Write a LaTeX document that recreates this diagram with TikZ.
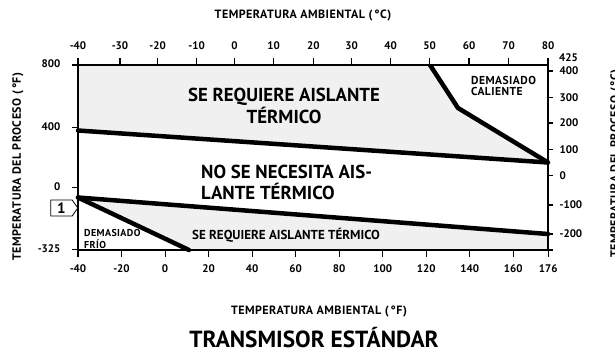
\documentclass[tikz,border=0pt]{standalone}
\usepackage{fontspec}
\setmainfont{PT Sans}
\usetikzlibrary{shapes.symbols}
\newcommand\trk{\addfontfeature{LetterSpace=4}}
\tikzset{
  bound/.style={line width=4.5pt, line join=round, line cap=round},
  frame/.style={line width=1.1pt},
  zone/.style={fill=black!6},
  ticklbl/.style={font=\fontsize{11}{12}\selectfont\bfseries, inner sep=1pt},
  axtitle/.style={font=\fontsize{12}{13}\selectfont\bfseries\trk},
  bignote/.style={font=\fontsize{18.8}{21.5}\selectfont\bfseries, align=center},
  smallnote/.style={align=left, inner sep=0pt, anchor=west},
}
\begin{document}
\begin{tikzpicture}[x=1pt, y=-1pt]
  \useasboundingbox (0,0) rectangle (615,349);
  % corners of the chart
  \coordinate (TL) at (78,65);
  \coordinate (BR) at (548,250);
  % limit lines
  \coordinate (hiL) at (78,130.5);
  \coordinate (hiR) at (548,162.5);
  \coordinate (hotT) at (430,65);
  \coordinate (hotK) at (458,108);
  \coordinate (loL) at (78,197.5);
  \coordinate (loR) at (548,234);
  \coordinate (loB) at (548,250);
  \coordinate (coldB) at (189,250);

  \fill[zone] (TL) -- (hotT) -- (hotK) -- (hiR) -- (hiL) -- cycle;
  \fill[zone] (loL) -- (loR) -- (loB) -- (coldB) -- cycle;
  \draw[frame] (TL) rectangle (BR);

  % ambient scale, degrees C on top
  \foreach \x/\c [count=\i] in {78/-40, 120/-30, 157.7/-20, 196.7/-10, 234.5/0, 273.5/10, 313.3/20,
      351.5/30, 390.7/40, 429.7/50, 469/60, 508.5/70, 548/80}
    \draw[frame] (\x,65) -- (\x,58) (\x,46) node[ticklbl] (ctop\i) {\c};
  % ambient scale, degrees F below
  \foreach \x/\f [count=\i] in {78/-40, 121.5/-20, 165.1/0, 208.6/20, 252.1/40, 295.7/60, 339.2/80,
      382.8/100, 426.3/120, 469.8/140, 513.3/160, 548.2/176}
    \draw[frame] (\x,250) -- (\x,257) (\x,269) node[ticklbl] (fbot\i) {\f};
  % process scale, degrees F left
  \foreach \y/\f [count=\i] in {65/800, 127.7/400, 187.7/0, 249.5/-325}
    \draw[frame] (72,\y) -- (78,\y) (62,\y-1) node[ticklbl, anchor=east] (fleft\i) {\f};
  % process scale, degrees C right
  \foreach \y/\c [count=\i] in {71/400, 97.5/300, 123/200, 149.3/100, 175.5/0, 205/-100, 234/-200}
    \draw[frame] (548,\y) -- (553,\y) (558,\y) node[ticklbl, anchor=west] (cright\i) {\c};
  \draw[frame] (548,250) -- (553,250);
  \node[ticklbl, anchor=west] (ctopmax) at (558,58) {425};

  \draw[bound] (hiL) -- (hiR);
  \draw[bound, line cap=butt] (hotT) -- (hotK) -- (hiR);
  \draw[bound] (loL) -- (loR);
  \draw[bound] (loL) -- (coldB);

  \node[bignote] (needA) at (284,106) {SE REQUIERE AISLANTE\\TÉRMICO};
  \node[bignote, align=left, anchor=west, inner sep=0pt] (noneed) at (201,182.5) {NO SE NECESITA AIS-\\LANTE TÉRMICO};
  \node[font=\fontsize{13}{14}\selectfont\bfseries] (needB) at (286,235) {SE REQUIERE AISLANTE TÉRMICO};
  \node[smallnote, font=\fontsize{11.5}{11}\selectfont\bfseries\trk] (hot) at (471,85.5) {DEMASIADO\\CALIENTE};
  \node[smallnote, font=\fontsize{10}{11.7}\selectfont\bfseries\trk] (cold) at (84,239) {DEMASIADO\\FRÍO};

  \node[draw, line width=0.8pt, signal, signal to=east, signal pointer angle=110,
    minimum width=27pt, minimum height=16pt, inner sep=0pt,
    font=\fontsize{15}{15}\selectfont\bfseries] (flag) at (61.5,208) {1};

  \node[axtitle] (topttl) at (303,16) {TEMPERATURA AMBIENTAL (\,°C)};
  \node[axtitle] (botttl) at (319,312) {TEMPERATURA AMBIENTAL (\,°F)};
  \node[axtitle, rotate=90] (leftttl) at (18,166.5) {TEMPERATURA DEL PROCESO (\,°F)};
  \node[axtitle, rotate=90] (rightttl) at (616,163.5) {TEMPERATURA DEL PROCESO (\,°C)};
  \node[font=\fontsize{23.3}{26}\selectfont\bfseries] (title) at (314,338) {TRANSMISOR ESTÁNDAR};
\end{tikzpicture}
\end{document}
